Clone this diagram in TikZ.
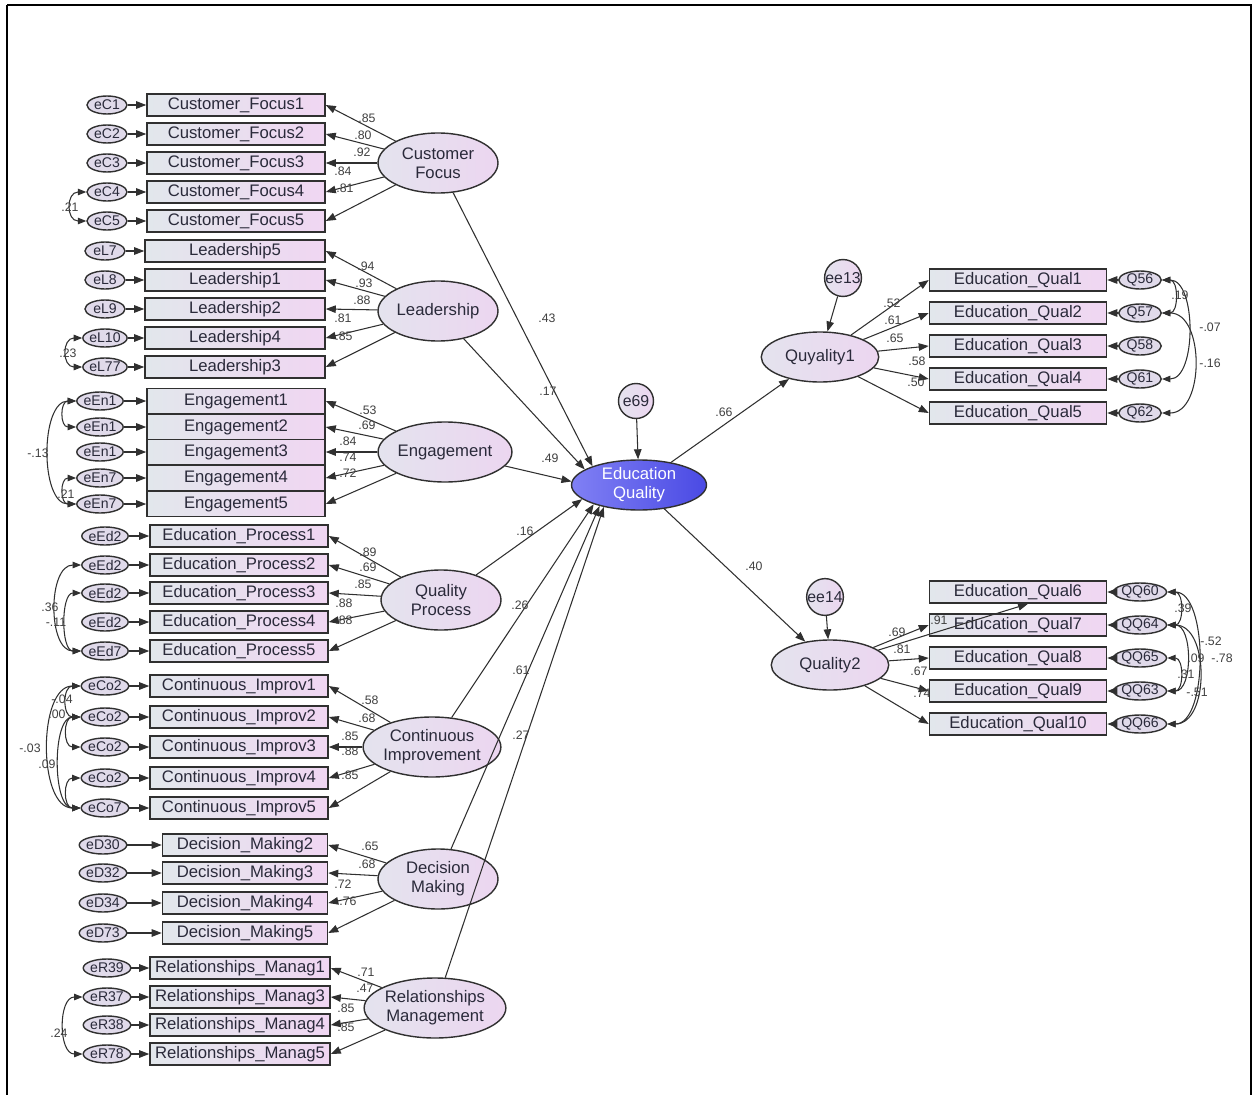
\documentclass[tikz,border=0pt]{standalone}
\usepackage{fontspec}
\setmainfont{Liberation Sans}
\usetikzlibrary{shapes.geometric,arrows.meta}
\definecolor{linec}{HTML}{303030}
\definecolor{boxl}{HTML}{E2E7EC}
\definecolor{boxr}{HTML}{F0D6F2}
\definecolor{latl}{HTML}{E4E3EE}
\definecolor{latr}{HTML}{ECD6F0}
\definecolor{errfill}{HTML}{E0DAEA}
\definecolor{eql}{HTML}{8080F4}
\definecolor{eqr}{HTML}{4A4AE4}
\definecolor{txt}{HTML}{2A2A3A}
\definecolor{lblc}{HTML}{404040}
\tikzset{
 ind/.style={draw=linec, line width=0.9pt, left color=boxl, right color=boxr, minimum height=0.44cm, inner sep=0pt, font=\fontsize{9.5}{10}\selectfont, text=txt},
 err/.style={ellipse, draw=linec, line width=0.8pt, fill=errfill, minimum width=0.8cm, minimum height=0.36cm, inner sep=0pt, font=\fontsize{8}{8}\selectfont, text=txt},
 lat/.style={ellipse, draw=linec, line width=0.8pt, left color=latl, right color=latr, minimum width=2.4cm, minimum height=1.2cm, inner sep=0pt, align=center, font=\fontsize{9.5}{11}\selectfont, text=txt},
 dist/.style={circle, draw=linec, line width=0.8pt, left color=latl, right color=latr, minimum size=0.7cm, inner sep=0pt, font=\fontsize{9}{9}\selectfont, text=txt},
 pth/.style={-{Triangle[length=0.2cm,width=0.15cm]}, line width=0.6pt, draw=linec},
 cov/.style={{Triangle[length=0.17cm,width=0.13cm]}-{Triangle[length=0.17cm,width=0.13cm]}, line width=0.6pt, draw=linec},
 lbl/.style={font=\fontsize{7}{7}\selectfont, text=lblc, inner sep=0pt},
}
\begin{document}
\begin{tikzpicture}[x=0.02cm,y=-0.02cm]
\useasboundingbox (0,0) rectangle (1254,1095);
\fill[white] (0,0) rectangle (1254,1095);
\draw[black, line width=0.8pt] (7,5) -- (1251,5) -- (1251,1100) (7,5) -- (7,1100);

% ---------- Customer Focus ----------
\foreach \i/\y/\t in {1/105/Customer\_Focus1,2/134/Customer\_Focus2,3/163/Customer\_Focus3,4/192/Customer\_Focus4,5/221/Customer\_Focus5}{
  \node[ind, minimum width=3.56cm] (cf\i) at (236,\y) {\t};
  \node[err] (ec\i) at (107,\y) {eC\i};
  \draw[pth] (ec\i) -- (cf\i.west);
}
\node[lat] (cf) at (438,163) {Customer\\Focus};
\foreach \i in {1,...,5}{\draw[pth] (cf) -- (cf\i.east);}
\node[lbl] at (367,118) {.85};
\node[lbl] at (363,135) {.80};
\node[lbl] at (362,152) {.92};
\node[lbl] at (343,171) {.84};
\node[lbl] at (345,188) {.81};
\draw[cov] (ec4.west) to[out=180,in=180,looseness=1.8] (ec5.west);
\node[lbl] at (70,207) {.21};

% ---------- Leadership ----------
\foreach \i/\y/\t/\e in {1/251/Leadership5/eL7,2/280/Leadership1/eL8,3/309/Leadership2/eL9,4/338/Leadership4/eL10,5/367/Leadership3/eL77}{
  \node[ind, minimum width=3.6cm] (ld\i) at (235,\y) {\t};
  \node[err] (el\i) at (105,\y) {\e};
  \draw[pth] (el\i) -- (ld\i.west);
}
\node[lat] (lead) at (438,311) {Leadership};
\foreach \i in {1,...,5}{\draw[pth] (lead) -- (ld\i.east);}
\node[lbl] at (366,266) {.94};
\node[lbl] at (364,283) {.93};
\node[lbl] at (362,300) {.88};
\node[lbl] at (343,318) {.81};
\node[lbl] at (344,336) {.85};
\draw[cov] (el4.west) to[out=180,in=180,looseness=1.8] (el5.west);
\node[lbl] at (68,353) {.23};

% ---------- Engagement ----------
\foreach \i/\y/\e in {1/401/eEn1,2/427/eEn1,3/452/eEn1,4/478/eEn7,5/504/eEn7}{
  \node[ind, minimum width=3.56cm, minimum height=0.5cm] (en\i) at (236,\y) {Engagement\i};
  \node[err] (een\i) at (100,\y) {\e};
  \draw[pth] (een\i) -- (en\i.west);
}
\node[lat, minimum width=2.5cm] (eng) at (445,452) {Engagement};
\foreach \i in {1,...,5}{\draw[pth] (eng) -- (en\i.east);}
\node[lbl] at (368,410) {.53};
\node[lbl] at (367,425) {.69};
\node[lbl] at (348,441) {.84};
\node[lbl] at (348,457) {.74};
\node[lbl] at (348,473) {.72};
\draw[cov] (een1.west) to[out=180,in=180,looseness=1.6] (een2.west);
\draw[cov] (een4.west) to[out=180,in=180,looseness=1.6] (een5.west);
\draw[cov] (een1.west) to[out=180,in=180,looseness=0.9] (een5.west);
\node[lbl] at (38,453) {-.13};
\node[lbl] at (66,494) {.21};

% ---------- Quality Process ----------
\foreach \i/\y/\e in {1/536/eEd2,2/565/eEd2,3/593/eEd2,4/622/eEd2,5/651/eEd7}{
  \node[ind, minimum width=3.56cm] (ep\i) at (239,\y) {Education\_Process\i};
  \node[err] (eed\i) at (105,\y) {\e};
  \draw[pth] (eed\i) -- (ep\i.west);
}
\node[lat] (qp) at (441,600) {Quality\\Process};
\foreach \i in {1,...,5}{\draw[pth] (qp) -- (ep\i.east);}
\node[lbl] at (368,552) {.89};
\node[lbl] at (368,567) {.69};
\node[lbl] at (363,584) {.85};
\node[lbl] at (344,603) {.88};
\node[lbl] at (344,620) {.88};
\draw[cov] (eed2.west) to[out=180,in=180,looseness=1] (eed5.west);
\draw[cov] (eed3.west) to[out=180,in=180,looseness=0.9] (eed5.west);
\node[lbl] at (50,607) {.36};
\node[lbl] at (56,622) {-.11};

% ---------- Continuous Improvement ----------
\foreach \i/\y/\e in {1/686/eCo2,2/717/eCo2,3/747/eCo2,4/778/eCo2,5/808/eCo7}{
  \node[ind, minimum width=3.56cm] (co\i) at (239,\y) {Continuous\_Improv\i};
  \node[err] (eco\i) at (105,\y) {\e};
  \draw[pth] (eco\i) -- (co\i.west);
}
\node[lat, minimum width=2.5cm] (ci) at (432,747) {Continuous\\Improvement};
\foreach \i in {1,...,5}{\draw[pth] (ci) -- (co\i.east);}
\node[lbl] at (370,700) {.58};
\node[lbl] at (367,718) {.68};
\node[lbl] at (350,736) {.85};
\node[lbl] at (350,751) {.88};
\node[lbl] at (350,775) {.85};
\draw[cov] (eco1.west) to[out=180,in=180,looseness=1.5] (eco2.west);
\draw[cov] (eco2.west) to[out=180,in=180,looseness=1.5] (eco3.west);
\draw[cov] (eco4.west) to[out=180,in=180,looseness=1.5] (eco5.west);
\draw[cov] (eco1.west) to[out=180,in=180,looseness=0.9] (eco5.west);
\draw[cov] (eco2.west) to[out=180,in=180,looseness=0.8] (eco5.west);
\node[lbl] at (62,699) {-.04};
\node[lbl] at (57,714) {.00};
\node[lbl] at (30,748) {-.03};
\node[lbl] at (47,764) {.09};

% ---------- Decision Making ----------
\foreach \i/\y/\n/\e in {1/845/2/eD30,2/873/3/eD32,3/903/4/eD34,4/933/5/eD73}{
  \node[ind, minimum width=3.3cm] (dm\i) at (245,\y) {Decision\_Making\n};
  \node[err] (edm\i) at (103,\y) {\e};
  \draw[pth] (edm\i) -- (dm\i.west);
}
\node[lat] (dm) at (438,879) {Decision\\Making};
\foreach \i in {1,...,4}{\draw[pth] (dm) -- (dm\i.east);}
\node[lbl] at (370,846) {.65};
\node[lbl] at (367,864) {.68};
\node[lbl] at (343,884) {.72};
\node[lbl] at (348,901) {.76};

% ---------- Relationships Management ----------
\foreach \i/\y/\n/\e in {1/968/1/eR39,2/997/3/eR37,3/1025/4/eR38,4/1054/5/eR78}{
  \node[ind, minimum width=3.6cm] (rm\i) at (240,\y) {Relationships\_Manag\n};
  \node[err] (erm\i) at (107,\y) {\e};
  \draw[pth] (erm\i) -- (rm\i.west);
}
\node[lat, minimum width=2.5cm] (rm) at (435,1008) {Relationships\\Management};
\foreach \i in {1,...,4}{\draw[pth] (rm) -- (rm\i.east);}
\node[lbl] at (366,972) {.71};
\node[lbl] at (365,988) {.47};
\node[lbl] at (346,1008) {.85};
\node[lbl] at (346,1027) {.85};
\draw[cov] (erm2.west) to[out=180,in=180,looseness=1.1] (erm4.west);
\node[lbl] at (59,1033) {.24};

% ---------- Centre ----------
\node[ellipse, draw=linec, line width=0.8pt, left color=eql, right color=eqr, minimum width=2.7cm, minimum height=1cm, inner sep=0pt, align=center, text=white, font=\fontsize{9.5}{11}\selectfont] (eq) at (639,485) {Education\\Quality};
\node[dist] (e69) at (636,401) {e69};
\draw[pth] (e69) -- (eq);
\draw[pth] (cf) -- (eq.158);
\draw[pth] (lead) -- (eq.164);
\draw[pth] (eng) -- (eq.177);
\draw[pth] (qp) -- (eq.194);
\draw[pth] (ci) -- (eq.203);
\draw[pth] (dm) -- (eq.208);
\draw[pth] (rm) -- (eq.212);
\node[lbl] at (547,318) {.43};
\node[lbl] at (548,391) {.17};
\node[lbl] at (550,458) {.49};
\node[lbl] at (525,531) {.16};
\node[lbl] at (520,605) {.26};
\node[lbl] at (521,670) {.61};
\node[lbl] at (521,735) {.27};

% ---------- Quyality1 ----------
\node[lat, minimum width=2.35cm, minimum height=1cm] (q1) at (820,357) {Quyality1};
\node[dist] (ee13) at (843,278) {ee13};
\draw[pth] (ee13) -- (q1);
\draw[pth] (eq) -- (q1);
\node[lbl] at (724,412) {.66};
\foreach \i/\y/\e in {1/280/Q56,2/313/Q57,3/346/Q58,4/379/Q61,5/413/Q62}{
  \node[ind, minimum width=3.54cm] (qa\i) at (1018,\y) {Education\_Qual\i};
  \node[err, minimum width=0.85cm] (eqa\i) at (1140,\y) {\e};
  \draw[pth] (eqa\i) -- (qa\i.east);
  \draw[pth] (q1) -- (qa\i.west);
}
\node[lbl] at (892,303) {.52};
\node[lbl] at (893,320) {.61};
\node[lbl] at (895,338) {.65};
\node[lbl] at (917,361) {.58};
\node[lbl] at (916,382) {.50};
\draw[cov] (eqa1.east) to[out=0,in=0,looseness=1.3] (eqa2.east);
\draw[cov] (eqa1.east) to[out=0,in=0,looseness=0.9] (eqa4.east);
\draw[cov] (eqa2.east) to[out=0,in=0,looseness=1.1] (eqa5.east);
\node[lbl] at (1180,295) {.19};
\node[lbl] at (1210,327) {-.07};
\node[lbl] at (1210,363) {-.16};

% ---------- Quality2 ----------
\node[lat, minimum width=2.35cm, minimum height=1cm] (q2) at (830,665) {Quality2};
\node[dist] (ee14) at (825,597) {ee14};
\draw[pth] (ee14) -- (q2);
\draw[pth] (eq) -- (q2);
\node[lbl] at (754,566) {.40};
\foreach \i/\y/\n/\e in {1/592/6/QQ60,2/625/7/QQ64,3/658/8/QQ65,4/691/9/QQ63,5/724/10/QQ66}{
  \node[ind, minimum width=3.54cm] (qb\i) at (1018,\y) {Education\_Qual\n};
  \node[err, minimum width=0.85cm] (eqb\i) at (1140,\y) {\e};
  \draw[pth] (eqb\i) -- (qb\i.east);
}
\draw[pth] (q2) -- ([xshift=0.2cm]qb1.south);
\foreach \i in {2,...,5}{\draw[pth] (q2) -- (qb\i.west);}
\node[lbl] at (897,632) {.69};
\node[lbl] at (939,620) {.91};
\node[lbl] at (902,649) {.81};
\node[lbl] at (919,671) {.67};
\node[lbl] at (922,693) {.74};
\draw[cov] (eqb1.east) to[out=0,in=0,looseness=1.3] (eqb2.east);
\draw[cov] (eqb1.east) to[out=0,in=0,looseness=0.8] (eqb5.east);
\draw[cov] (eqb2.east) to[out=0,in=0,looseness=1] (eqb4.east);
\draw[cov] (eqb2.east) to[out=0,in=0,looseness=1.1] (eqb5.east);
\draw[cov] (eqb3.east) to[out=0,in=0,looseness=1.3] (eqb4.east);
\node[lbl] at (1183,608) {.39};
\node[lbl] at (1211,641) {-.52};
\node[lbl] at (1196,658) {.09};
\node[lbl] at (1222,658) {-.78};
\node[lbl] at (1186,674) {.31};
\node[lbl] at (1197,692) {-.51};
\end{tikzpicture}
\end{document}
